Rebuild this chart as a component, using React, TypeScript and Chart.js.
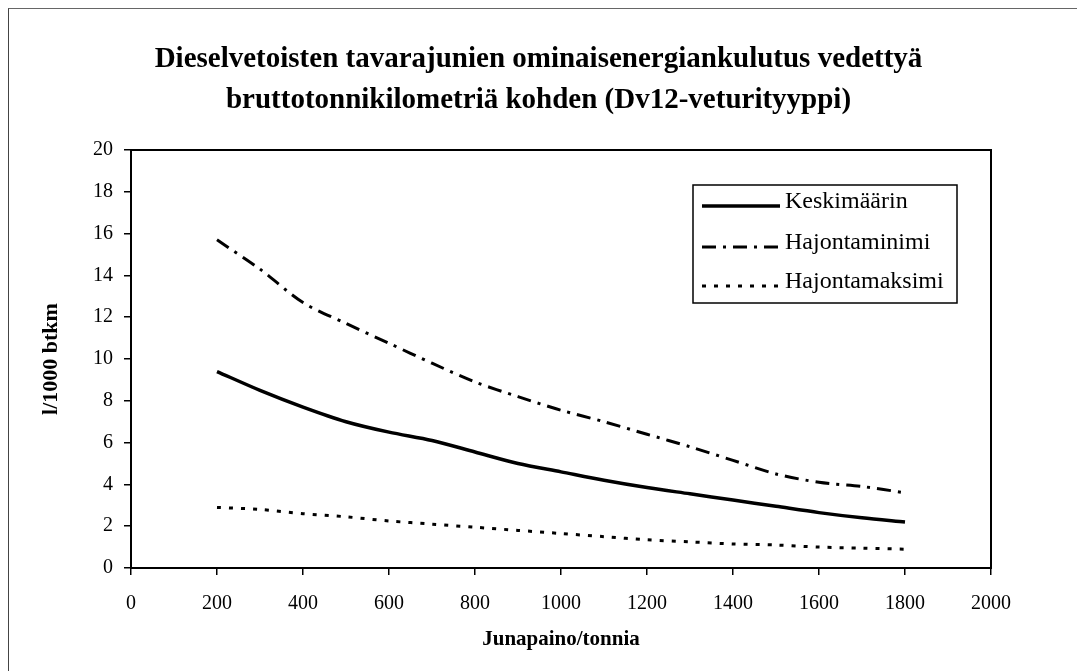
import React, { useEffect, useRef } from "react";
import { Chart, registerables } from "chart.js";

Chart.register(...registerables);

// ---- data ----
const junapaino = [200, 300, 400, 500, 600, 700, 800, 900, 1000, 1100, 1200, 1300, 1400, 1500, 1600, 1700, 1800];
const keskimaarin = [9.4, 8.5, 7.7, 7.0, 6.5, 6.1, 5.55, 5.0, 4.6, 4.2, 3.85, 3.55, 3.25, 2.95, 2.65, 2.4, 2.2];
const hajontaminimi = [15.7, 14.3, 12.7, 11.7, 10.75, 9.8, 8.9, 8.2, 7.55, 7.0, 6.4, 5.8, 5.15, 4.5, 4.1, 3.9, 3.6];
const hajontamaksimi = [2.9, 2.8, 2.6, 2.45, 2.25, 2.1, 1.95, 1.8, 1.65, 1.5, 1.35, 1.25, 1.15, 1.1, 1.0, 0.95, 0.9];
const seriesNames = ["Keskimäärin", "Hajontaminimi", "Hajontamaksimi"];
const titleLines = [
  "Dieselvetoisten tavarajunien ominaisenergiankulutus vedettyä",
  "bruttotonnikilometriä kohden (Dv12-veturityyppi)",
];
const xTitle = "Junapaino/tonnia";
const yTitle = "l/1000 btkm";

const SERIF = '"Liberation Serif", "DejaVu Serif", serif';
const dashes: number[][] = [[], [14, 7, 3, 7], [4, 8]];
const widths = [3.5, 3, 3];

const framePlugin = {
  id: "frameTitleLegend",
  afterDraw(chart: any) {
    const { ctx, chartArea } = chart;
    const { left, top, right, bottom } = chartArea;
    ctx.save();
    // plot frame
    ctx.strokeStyle = "#000";
    ctx.lineWidth = 2;
    ctx.setLineDash([]);
    ctx.strokeRect(left, top, right - left, bottom - top);

    // title
    ctx.fillStyle = "#000";
    ctx.font = `bold 29px ${SERIF}`;
    ctx.textAlign = "center";
    ctx.textBaseline = "middle";
    const cx = chart.width / 2;
    ctx.fillText(titleLines[0], cx, 52);
    ctx.fillText(titleLines[1], cx, 93);

    // legend box
    const lx = 685, ly = 177, lw = 264, lh = 118;
    ctx.fillStyle = "#fff";
    ctx.fillRect(lx, ly, lw, lh);
    ctx.strokeStyle = "#000";
    ctx.lineWidth = 1.5;
    ctx.strokeRect(lx, ly, lw, lh);
    const rows = [194, 235, 274];
    chart.data.datasets.forEach((ds: any, i: number) => {
      const y = rows[i];
      ctx.beginPath();
      ctx.setLineDash(ds.borderDash || []);
      ctx.lineWidth = ds.borderWidth;
      ctx.strokeStyle = "#000";
      ctx.moveTo(694, y + 4);
      ctx.lineTo(772, y + 4);
      ctx.stroke();
      ctx.setLineDash([]);
      ctx.fillStyle = "#000";
      ctx.font = `24px ${SERIF}`;
      ctx.textAlign = "left";
      ctx.textBaseline = "middle";
      ctx.fillText(ds.label, 777, y);
    });
    ctx.restore();
  },
};

export default function App() {
  const ref = useRef<HTMLCanvasElement | null>(null);

  useEffect(() => {
    if (!ref.current) return;
    const series = [keskimaarin, hajontaminimi, hajontamaksimi];
    const chart = new Chart(ref.current, {
      type: "line",
      data: {
        datasets: series.map((vals, i) => ({
          label: seriesNames[i],
          data: junapaino.map((x, j) => ({ x, y: vals[j] })),
          borderColor: "#000",
          backgroundColor: "#000",
          borderWidth: widths[i],
          borderDash: dashes[i],
          pointRadius: 0,
          tension: 0.3,
          fill: false,
        })),
      },
      options: {
        animation: false,
        responsive: false,
        maintainAspectRatio: false,
        layout: { padding: { top: 142, right: 78, left: 0, bottom: 0 } },
        plugins: {
          legend: { display: false },
          title: { display: false },
          tooltip: { enabled: false },
        },
        scales: {
          x: {
            type: "linear",
            min: 0,
            max: 2000,
            ticks: {
              stepSize: 200,
              color: "#000",
              padding: 17,
              maxRotation: 0,
              font: { family: SERIF, size: 20 },
              callback: (v: any) => String(v),
            },
            grid: { drawOnChartArea: false, drawTicks: true, tickLength: 7, color: "#000", lineWidth: 1.5 },
            border: { color: "#000", width: 2 },
            title: {
              display: true,
              text: xTitle,
              color: "#000",
              font: { family: SERIF, size: 21, weight: "bold" },
              padding: { top: 0, bottom: 11 },
            },
            afterFit(scale: any) {
              scale.height = 95;
            },
          },
          y: {
            type: "linear",
            min: 0,
            max: 20,
            ticks: {
              stepSize: 2,
              color: "#000",
              padding: 11,
              font: { family: SERIF, size: 20 },
              callback: (v: any) => String(v),
            },
            grid: { drawOnChartArea: false, drawTicks: true, tickLength: 7, color: "#000", lineWidth: 1.5 },
            border: { color: "#000", width: 2 },
            title: {
              display: true,
              text: yTitle,
              color: "#000",
              font: { family: SERIF, size: 22, weight: "bold" },
              padding: { top: 30, bottom: 0 },
            },
            afterFit(scale: any) {
              scale.width = 123;
            },
          },
        },
      },
      plugins: [framePlugin],
    } as any);
    return () => chart.destroy();
  }, []);

  return (
    <>
      <div
        style={{
          position: "fixed",
          left: 8,
          top: 8,
          right: 0,
          bottom: 0,
          borderTop: "1px solid #666",
          borderLeft: "1px solid #444",
          pointerEvents: "none",
        }}
      />
      <div style={{ width: 1061, height: 655, position: "relative" }}>
        <canvas ref={ref} width={1061} height={655} style={{ display: "block", width: 1061, height: 655 }} />
      </div>
    </>
  );
}
